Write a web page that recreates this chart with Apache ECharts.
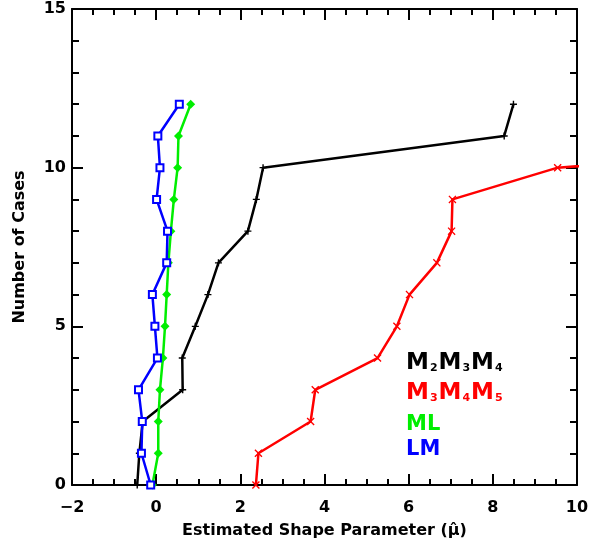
<!DOCTYPE html>
<html>
<head>
<meta charset="utf-8">
<script src="https://cdn.jsdelivr.net/npm/echarts@6/dist/echarts.min.js"></script>
<style>
  html, body { margin: 0; padding: 0; background: #fff; }
  #main { width: 593px; height: 544px; }
</style>
</head>
<body>
<div id="main"></div>
<script>
// number of cases (y) for each point
var caseCounts = [0, 1, 2, 3, 4, 5, 6, 7, 8, 9, 10, 11, 12];
// estimated shape parameter (x) per method
var m234Shape = [-0.45, -0.40, -0.32, 0.63, 0.62, 0.93, 1.23, 1.48, 2.18, 2.38, 2.54, 8.27, 8.49];
var m345Shape = [2.37, 2.43, 3.67, 3.78, 5.26, 5.72, 6.02, 6.67, 7.02, 7.04, 9.54, 20];
var mlShape = [-0.09, 0.05, 0.05, 0.09, 0.16, 0.21, 0.25, 0.29, 0.35, 0.42, 0.51, 0.53, 0.82];
var lmShape = [-0.13, -0.35, -0.33, -0.42, 0.03, -0.03, -0.09, 0.25, 0.27, 0.01, 0.09, 0.04, 0.55];
var xTicks = [-2, 0, 2, 4, 6, 8, 10];
var yTicks = [0, 5, 10, 15];

function pairs(xs) {
    return xs.map(function (x, i) { return [x, caseCounts[i]]; });
}

var plusPath = 'path://M4,0h2v10h-2zM0,4h10v2h-10z';
var crossPath = 'path://M1.2,0L5,3.8L8.8,0L10,1.2L6.2,5L10,8.8L8.8,10L5,6.2L1.2,10L0,8.8L3.8,5L0,1.2Z';

var FONT = 'DejaVu Sans';
var labelFont = { color: '#000', fontFamily: FONT, fontWeight: 'bold', fontSize: 16 };
var axisStroke = { color: '#000', width: 2 };

var myChart = echarts.init(document.getElementById('main'));

var option = {
    animation: false,
    backgroundColor: '#fff',
    grid: { left: 72, right: 16, top: 9, bottom: 57, containLabel: false },
    xAxis: [
        {
            type: 'value', min: -2, max: 10, interval: 2,
            name: 'Estimated Shape Parameter (\u03bc\u0302)',
            nameLocation: 'middle', nameGap: 38,
            nameTextStyle: labelFont,
            axisLine: { onZero: false, lineStyle: axisStroke },
            axisTick: { inside: true, length: 11, lineStyle: axisStroke },
            minorTick: { show: true, splitNumber: 4, length: 6, lineStyle: axisStroke },
            axisLabel: Object.assign({ margin: 15, formatter: function (v) { return xTicks.indexOf(v) >= 0 ? String(v).replace('-', '\u2212') : ''; } }, labelFont),
            splitLine: { show: false }
        },
        {
            type: 'value', position: 'top', min: -2, max: 10, interval: 2,
            axisLine: { show: true, onZero: false, lineStyle: axisStroke },
            axisTick: { show: true, inside: true, length: 11, lineStyle: axisStroke },
            minorTick: { show: true, splitNumber: 4, length: 6, lineStyle: axisStroke },
            axisLabel: { show: false },
            splitLine: { show: false }
        }
    ],
    yAxis: [
        {
            type: 'value', min: 0, max: 15, interval: 5,
            name: 'Number of Cases',
            nameLocation: 'middle', nameGap: 44,
            nameTextStyle: labelFont,
            axisLine: { show: true, onZero: false, lineStyle: axisStroke },
            axisTick: { show: true, inside: true, length: 11, lineStyle: axisStroke },
            minorTick: { show: true, splitNumber: 5, length: 7, lineStyle: axisStroke },
            axisLabel: Object.assign({ margin: 6, formatter: function (v) { return yTicks.indexOf(v) >= 0 ? String(v) : ''; } }, labelFont),
            splitLine: { show: false }
        },
        {
            type: 'value', position: 'right', min: 0, max: 15, interval: 5,
            axisLine: { show: true, onZero: false, lineStyle: axisStroke },
            axisTick: { show: true, inside: true, length: 11, lineStyle: axisStroke },
            minorTick: { show: true, splitNumber: 5, length: 7, lineStyle: axisStroke },
            axisLabel: { show: false },
            splitLine: { show: false }
        }
    ],
    series: [
        {
            name: 'M2M3M4', type: 'line', data: pairs(m234Shape),
            symbol: plusPath, symbolSize: 7,
            lineStyle: { color: '#000', width: 2.5 },
            itemStyle: { color: '#000', borderWidth: 0 }
        },
        {
            name: 'M3M4M5', type: 'line', data: pairs(m345Shape),
            symbol: crossPath, symbolSize: 8,
            lineStyle: { color: '#ff0000', width: 2.5 },
            itemStyle: { color: '#ff0000', borderWidth: 0 }
        },
        {
            name: 'ML', type: 'line', data: pairs(mlShape),
            symbol: 'diamond', symbolSize: 9,
            lineStyle: { color: '#00ee00', width: 2.5 },
            itemStyle: { color: '#00ee00', borderWidth: 0 }
        },
        {
            name: 'LM', type: 'line', data: pairs(lmShape),
            symbol: 'emptyRect', symbolSize: 7,
            lineStyle: { color: '#0000ff', width: 2.5 },
            itemStyle: { color: '#0000ff', borderColor: '#0000ff', borderWidth: 2 }
        },
        // empty series so the top and right frame axes get drawn
        { type: 'line', xAxisIndex: 1, yAxisIndex: 1, data: [], silent: true }
    ],
    // legend texts with subscripts
    graphic: [
        {
            type: 'text', left: 406, top: 352,
            style: {
                text: '{m|M}{s|2}{m|M}{s|3}{m|M}{s|4}',
                rich: {
                    m: { fontFamily: FONT, fontWeight: 'bold', fontSize: 23, fill: '#000' },
                    s: { fontFamily: FONT, fontWeight: 'bold', fontSize: 11, fill: '#000', padding: [10, 1, 0, 1] }
                }
            }
        },
        {
            type: 'text', left: 406, top: 382,
            style: {
                text: '{m|M}{s|3}{m|M}{s|4}{m|M}{s|5}',
                rich: {
                    m: { fontFamily: FONT, fontWeight: 'bold', fontSize: 23, fill: '#ff0000' },
                    s: { fontFamily: FONT, fontWeight: 'bold', fontSize: 11, fill: '#ff0000', padding: [10, 1, 0, 1] }
                }
            }
        },
        {
            type: 'text', left: 406, top: 414,
            style: { text: 'ML', fontFamily: FONT, fontWeight: 'bold', fontSize: 21, fill: '#00ee00' }
        },
        {
            type: 'text', left: 406, top: 439,
            style: { text: 'LM', fontFamily: FONT, fontWeight: 'bold', fontSize: 21, fill: '#0000ff' }
        }
    ]
};

myChart.setOption(option);
</script>
</body>
</html>
